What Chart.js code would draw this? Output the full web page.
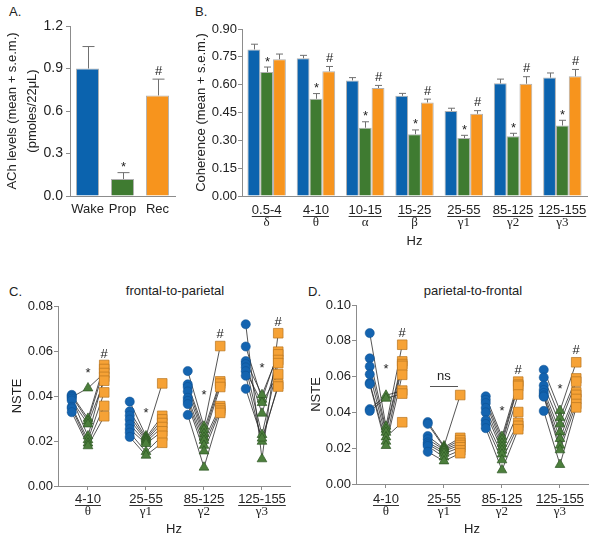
<!DOCTYPE html>
<html lang="en">
<head>
<meta charset="utf-8">
<title>ACh, coerência e NSTE</title>
<script src="https://cdn.jsdelivr.net/npm/chart.js@4"></script>
<style>
  body { margin: 0; background: #fff; }
  #figura { position: relative; width: 600px; height: 540px; overflow: hidden;
    font-family: "Liberation Sans", Arial, sans-serif; font-size: 13px; color: #222; }
  #figura canvas { position: absolute; }
  .texto { position: absolute; line-height: 14px; white-space: nowrap; }
  .centro { transform: translateX(-50%); }
</style>
</head>
<body>
<div id="figura">
  <div class="texto" style="left:9px;top:5px">A.</div>
  <div class="texto" style="left:195px;top:5px">B.</div>
  <div class="texto" style="left:9px;top:285px">C.</div>
  <div class="texto" style="left:308px;top:285px">D.</div>
  <div class="texto centro" style="left:175px;top:284px">frontal-to-parietal</div>
  <div class="texto centro" style="left:473px;top:284px">parietal-to-frontal</div>
  <canvas id="graficoA" width="190" height="250" style="left:0px;top:0px"></canvas>
  <canvas id="graficoB" width="410" height="250" style="left:190px;top:0px"></canvas>
  <canvas id="graficoC" width="300" height="255" style="left:0px;top:285px"></canvas>
  <canvas id="graficoD" width="300" height="255" style="left:300px;top:285px"></canvas>
</div>
<script>
// ---- dados do painel A (ACh)
const estados = ['Wake', 'Prop', 'Rec']
const achMedia = [0.90, 0.12, 0.71]
const achSem = [0.155, 0.045, 0.115]
const achMarcas = ['', '*', '#']

// ---- dados do painel B (coerência)
const faixasCoerencia = ['0.5-4', '4-10', '10-15', '15-25', '25-55', '85-125', '125-155']
const gregosCoerencia = ['δ', 'θ', 'α', 'β', 'γ1', 'γ2', 'γ3']
const coerWake = [0.790, 0.742, 0.623, 0.540, 0.458, 0.607, 0.638]
const coerProp = [0.668, 0.524, 0.368, 0.333, 0.312, 0.322, 0.380]
const coerRec = [0.737, 0.672, 0.582, 0.504, 0.443, 0.605, 0.645]
const semWake = [0.028, 0.016, 0.015, 0.013, 0.015, 0.023, 0.025]
const semProp = [0.027, 0.028, 0.032, 0.023, 0.015, 0.016, 0.028]
const semRec = [0.028, 0.026, 0.014, 0.018, 0.017, 0.038, 0.037]
const marcasWake = ['', '', '', '', '', '', '']
const marcasProp = ['*', '*', '*', '*', '*', '*', '*']
const marcasRec = ['', '#', '#', '#', '#', '#', '#']

// ---- dados dos paineis C e D (NSTE), um valor por animal em cada faixa
const faixasNste = ['4-10', '25-55', '85-125', '125-155']
const gregosNste = ['θ', 'γ1', 'γ2', 'γ3']

// C. frontal-to-parietal
const fpWake = [
  [0.0405, 0.0400, 0.0395, 0.0388, 0.0380, 0.0352, 0.0345, 0.0328],
  [0.0375, 0.0332, 0.0313, 0.0295, 0.0273, 0.0253, 0.0237, 0.0218],
  [0.0511, 0.0452, 0.0440, 0.0420, 0.0392, 0.0378, 0.0364, 0.0316],
  [0.0719, 0.0620, 0.0555, 0.0542, 0.0527, 0.0510, 0.0490, 0.0432]
]
const fpProp = [
  [0.0300, 0.0288, 0.0435, 0.0222, 0.0275, 0.0205, 0.0190, 0.0178],
  [0.0222, 0.0215, 0.0208, 0.0202, 0.0196, 0.0188, 0.0152, 0.0136],
  [0.0265, 0.0250, 0.0232, 0.0216, 0.0202, 0.0180, 0.0155, 0.0083],
  [0.0120, 0.0385, 0.0405, 0.0323, 0.0228, 0.0370, 0.0198, 0.0212]
]
const fpRec = [
  [0.0538, 0.0520, 0.0502, 0.0485, 0.0468, 0.0416, 0.0356, 0.0310],
  [0.0456, 0.0312, 0.0296, 0.0280, 0.0262, 0.0243, 0.0223, 0.0192],
  [0.0622, 0.0465, 0.0455, 0.0440, 0.0355, 0.0345, 0.0335, 0.0325],
  [0.0679, 0.0597, 0.0585, 0.0560, 0.0546, 0.0497, 0.0452, 0.0442]
]
// [texto, posição na faixa, valor]
const fpMarcas = [['*', 0, 0.0516], ['#', 0.28, 0.059], ['*', 1, 0.0342], ['*', 2, 0.0422],
  ['#', 2.28, 0.0679], ['*', 3, 0.0542], ['#', 3.28, 0.073]]

// D. parietal-to-frontal
const pfWake = [
  [0.0843, 0.0702, 0.0657, 0.0613, 0.0565, 0.0558, 0.0418, 0.0408],
  [0.0346, 0.0336, 0.0268, 0.0250, 0.0232, 0.0222, 0.0212, 0.0180],
  [0.0490, 0.0470, 0.0452, 0.0425, 0.0400, 0.0356, 0.0335, 0.0312],
  [0.0638, 0.0595, 0.0550, 0.0525, 0.0508, 0.0495, 0.0488, 0.0408]
]
const pfProp = [
  [0.0322, 0.0305, 0.0288, 0.0262, 0.0238, 0.0214, 0.0495, 0.0478],
  [0.0212, 0.0205, 0.0198, 0.0192, 0.0183, 0.0170, 0.0150, 0.0128],
  [0.0265, 0.0247, 0.0226, 0.0207, 0.0188, 0.0166, 0.0134, 0.0078],
  [0.0410, 0.0370, 0.0335, 0.0290, 0.0253, 0.0216, 0.0190, 0.0108]
]
const pfRec = [
  [0.0778, 0.0685, 0.0670, 0.0345, 0.0660, 0.0610, 0.0522, 0.0505],
  [0.0497, 0.0258, 0.0245, 0.0230, 0.0218, 0.0205, 0.0188, 0.0172],
  [0.0572, 0.0555, 0.0548, 0.0500, 0.0402, 0.0342, 0.0325, 0.0306],
  [0.0680, 0.0590, 0.0572, 0.0512, 0.0498, 0.0475, 0.0447, 0.0428]
]
const pfMarcas = [['*', 0, 0.0664], ['#', 0.28, 0.085], ['ns', 1, 0.0603], ['*', 2, 0.0429],
  ['#', 2.28, 0.064], ['*', 3, 0.0553], ['#', 3.28, 0.0751]]

// cores
const azul = '#0b63ae'
const verde = '#3f7b31'
const laranja = '#f7941d'
const cinzaEixo = '#8c8c8c'
const fonteSans = '"Liberation Sans", Arial, sans-serif'
const fonteSerif = '"Liberation Serif", "Times New Roman", serif'

Chart.defaults.font.family = fonteSans
Chart.defaults.font.size = 13
Chart.defaults.color = '#222'
Chart.defaults.animation = false
Chart.defaults.plugins.legend.display = false
Chart.defaults.plugins.tooltip.enabled = false

// deslocamento dos pontos wake / rec em torno do centro da faixa
const desloc = 0.28

// desenha o texto com o centro visual no ponto pedido
function escreveMarca(ctx, texto, x, y) {
  const ajuste = texto === '*' ? 7.5 : (texto === '#' ? 4.7 : 3.5)
  ctx.fillText(texto, x, y + ajuste)
}

// barras de erro (só para cima) e as marcas * e #
const barrasDeErro = {
  id: 'barrasDeErro',
  afterDatasetsDraw(chart, args, opts) {
    const ctx = chart.ctx
    const eixo = chart.scales.y
    chart.data.datasets.forEach((ds, i) => {
      const meta = chart.getDatasetMeta(i)
      meta.data.forEach((barra, j) => {
        const x = Math.round(barra.x) + 0.5
        const topo = eixo.getPixelForValue(ds.data[j] + ds.erro[j])
        ctx.save()
        ctx.strokeStyle = '#707070'
        ctx.lineWidth = 1
        ctx.beginPath()
        ctx.moveTo(x, barra.y)
        ctx.lineTo(x, topo)
        ctx.moveTo(x - opts.cap, topo)
        ctx.lineTo(x + opts.cap, topo)
        ctx.stroke()
        if (ds.marcas[j]) {
          ctx.fillStyle = '#222'
          ctx.font = '13px ' + fonteSans
          ctx.textAlign = 'center'
          ctx.textBaseline = 'alphabetic'
          escreveMarca(ctx, ds.marcas[j], x, topo - 9)
        }
        ctx.restore()
      })
    })
  }
}

// rótulos das faixas: número sublinhado, letra grega e "Hz"
const rotulosHz = {
  id: 'rotulosHz',
  afterDraw(chart, args, opts) {
    const ctx = chart.ctx
    const eixo = chart.scales.x
    ctx.save()
    ctx.fillStyle = '#222'
    ctx.strokeStyle = '#333'
    ctx.lineWidth = 1
    ctx.textAlign = 'center'
    ctx.textBaseline = 'middle'
    opts.faixas.forEach((faixa, i) => {
      const px = eixo.getPixelForValue(i)
      ctx.font = '13px ' + fonteSans
      ctx.fillText(faixa, px, opts.yFaixa)
      const w = ctx.measureText(faixa).width
      const yLinha = Math.round(opts.yFaixa + 6) + 0.5
      ctx.beginPath()
      ctx.moveTo(px - w / 2, yLinha)
      ctx.lineTo(px + w / 2, yLinha)
      ctx.stroke()
      ctx.font = '13px ' + fonteSerif
      ctx.fillText(opts.gregos[i], px, opts.yGrego)
    })
    ctx.font = '13px ' + fonteSans
    ctx.fillText('Hz', (chart.chartArea.left + chart.chartArea.right) / 2, opts.yHz)
    ctx.restore()
  }
}

// marcas dos painéis de NSTE
const marcasNste = {
  id: 'marcasNste',
  afterDatasetsDraw(chart, args, opts) {
    const ctx = chart.ctx
    const { x, y } = chart.scales
    ctx.save()
    ctx.fillStyle = '#222'
    ctx.strokeStyle = '#555'
    ctx.lineWidth = 1
    ctx.font = '13px ' + fonteSans
    ctx.textAlign = 'center'
    ctx.textBaseline = 'alphabetic'
    opts.marcas.forEach(([texto, pos, valor]) => {
      const px = x.getPixelForValue(pos)
      const py = y.getPixelForValue(valor)
      escreveMarca(ctx, texto, px, py)
      if (texto === 'ns') {
        const yLinha = Math.round(py + 10) + 0.5
        ctx.beginPath()
        ctx.moveTo(px - 14, yLinha)
        ctx.lineTo(px + 14, yLinha)
        ctx.stroke()
      }
    })
    ctx.restore()
  }
}

function eixoY(max, passo, casas, largura, titulo, padTitulo, padTicks, tamanho) {
  return {
    min: 0,
    max: max,
    ticks: { stepSize: passo, padding: padTicks, font: { size: tamanho || 13 }, callback: v => v.toFixed(casas) },
    grid: { drawOnChartArea: false, drawTicks: true, tickLength: 4, color: cinzaEixo },
    border: { color: cinzaEixo },
    title: { display: true, text: titulo, padding: { top: padTitulo, bottom: 0 }, font: { size: 13, lineHeight: 1.5 } },
    afterFit: s => { s.width = largura }
  }
}

// ---- painel A
new Chart(document.getElementById('graficoA'), {
  type: 'bar',
  data: {
    labels: estados,
    datasets: [{
      data: achMedia,
      erro: achSem,
      marcas: achMarcas,
      backgroundColor: [azul, verde, laranja],
      borderColor: 'rgba(80,80,80,0.45)',
      borderWidth: 1,
      barPercentage: 1,
      categoryPercentage: 0.66
    }]
  },
  options: {
    responsive: false,
    layout: { padding: { left: 0, top: 26, right: 15, bottom: 0 } },
    scales: {
      x: {
        grid: { display: false, drawTicks: false },
        border: { color: cinzaEixo },
        ticks: { padding: 6, autoSkip: false, maxRotation: 0, minRotation: 0, font: { size: 13 } },
        afterFit: s => { s.height = 54 }
      },
      y: eixoY(1.2, 0.3, 1, 70, ['ACh levels (mean + s.e.m.)', '(pmoles/22μL)'], 3, 3, 14)
    },
    plugins: { barrasDeErro: { cap: 6 } }
  },
  plugins: [barrasDeErro]
})

// ---- painel B
function barraB(valores, sem, marcas, cor) {
  return {
    data: valores, erro: sem, marcas: marcas,
    backgroundColor: cor, borderColor: 'rgba(80,80,80,0.45)', borderWidth: 1,
    barPercentage: 1, categoryPercentage: 0.78
  }
}

new Chart(document.getElementById('graficoB'), {
  type: 'bar',
  data: {
    labels: faixasCoerencia,
    datasets: [
      barraB(coerWake, semWake, marcasWake, azul),
      barraB(coerProp, semProp, marcasProp, verde),
      barraB(coerRec, semRec, marcasRec, laranja)
    ]
  },
  options: {
    responsive: false,
    layout: { padding: { left: 0, top: 29, right: 13, bottom: 0 } },
    scales: {
      x: {
        grid: { display: false, drawTicks: false },
        border: { color: cinzaEixo },
        ticks: { display: false },
        afterFit: s => { s.height = 54 }
      },
      y: eixoY(0.9, 0.15, 2, 52, 'Coherence (mean + s.e.m.)', 2, 1)
    },
    plugins: {
      barrasDeErro: { cap: 3.5 },
      rotulosHz: { faixas: faixasCoerencia, gregos: gregosCoerencia, yFaixa: 210, yGrego: 223, yHz: 241 }
    }
  },
  plugins: [barrasDeErro, rotulosHz]
})

// ---- paineis C e D
const pontos = (grupo, d) => grupo.flatMap((valores, k) => valores.map(v => ({ x: k + d, y: v })))

function graficoNste(id, wake, prop, rec, marcas, maxY, cfg) {
  const datasets = [
    { data: pontos(rec, desloc), pointStyle: 'rect', pointRadius: 6.8, backgroundColor: '#f6a236', borderColor: '#b8751f', borderWidth: 0.7 },
    { data: pontos(prop, 0), pointStyle: 'triangle', pointRadius: 5.6, backgroundColor: '#4c7f3c', borderColor: '#2c5622', borderWidth: 0.7 },
    { data: pontos(wake, -desloc), pointStyle: 'circle', pointRadius: 4.6, backgroundColor: '#1464b0', borderColor: '#0d4f8f', borderWidth: 0.5 }
  ]
  // uma linha por animal, ligando wake -> prop -> rec em cada faixa
  for (let s = 0; s < wake[0].length; s++) {
    const linha = []
    for (let k = 0; k < faixasNste.length; k++) {
      linha.push({ x: k - desloc, y: wake[k][s] }, { x: k, y: prop[k][s] }, { x: k + desloc, y: rec[k][s] }, { x: k + 0.5, y: null })
    }
    datasets.push({ data: linha, showLine: true, pointRadius: 0, borderColor: '#2a2a2a', borderWidth: 0.8 })
  }

  return new Chart(document.getElementById(id), {
    type: 'scatter',
    data: { datasets: datasets },
    options: {
      responsive: false,
      layout: { padding: { left: 0, top: cfg.topo, right: cfg.direita, bottom: 0 } },
      scales: {
        x: {
          type: 'linear',
          min: -0.517,
          max: 3.483,
          afterBuildTicks: s => { s.ticks = faixasNste.map((f, i) => ({ value: i })) },
          ticks: { display: false },
          grid: { drawOnChartArea: false, drawTicks: true, tickLength: 4, color: cinzaEixo },
          border: { color: cinzaEixo },
          afterFit: s => { s.height = cfg.alturaX }
        },
        y: eixoY(maxY, 0.02, 2, cfg.larguraY, 'NSTE', cfg.padTitulo, 1)
      },
      plugins: {
        marcasNste: { marcas: marcas },
        rotulosHz: { faixas: faixasNste, gregos: gregosNste, yFaixa: 214, yGrego: 227, yHz: 244 }
      }
    },
    plugins: [marcasNste, rotulosHz]
  })
}

graficoNste('graficoC', fpWake, fpProp, fpRec, fpMarcas, 0.08,
  { topo: 21, direita: 10, alturaX: 54, larguraY: 58, padTitulo: 8 })
graficoNste('graficoD', pfWake, pfProp, pfRec, pfMarcas, 0.10,
  { topo: 20, direita: 12, alturaX: 56, larguraY: 56, padTitulo: 7 })
</script>
</body>
</html>
